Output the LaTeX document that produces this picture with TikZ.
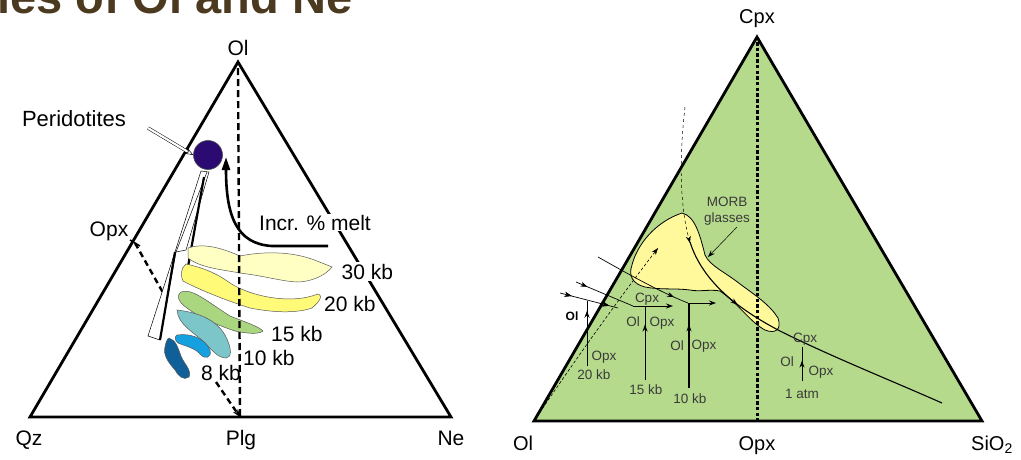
\documentclass[tikz,border=0pt]{standalone}
\usepackage{fontspec}
\setmainfont{Liberation Sans}
\usetikzlibrary{arrows.meta,decorations.markings}
\definecolor{titlebrown}{HTML}{4B3A1F}
\definecolor{rgreen}{HTML}{B5DA8C}
\definecolor{morb}{HTML}{FFF99B}
\definecolor{kbthirty}{HTML}{FFFFC4}
\definecolor{kbtwenty}{HTML}{FFFA78}
\definecolor{kbfifteen}{HTML}{A9D67E}
\definecolor{kbten}{HTML}{7CC6C9}
\definecolor{kbeighta}{HTML}{15A0E0}
\definecolor{kbeightb}{HTML}{0F5F98}
\definecolor{perid}{HTML}{2B0B72}
\definecolor{txtgray}{HTML}{3A3A3A}
\begin{document}
\begin{tikzpicture}[x=1pt,y=-1pt,
  edge/.style={line width=2.8pt, line join=miter},
  bigl/.style={font=\fontsize{21}{23}\selectfont, inner sep=0pt, anchor=base},
  smalll/.style={font=\fontsize{13.5}{15}\selectfont, inner sep=0pt, text=txtgray, anchor=base},
  blob/.style={draw=gray!70!black, line width=0.5pt},
  thinl/.style={line width=1pt},
  tip/.style={-{Stealth[length=7pt,width=5pt]}},
  midarrow/.style={postaction={decorate}, decoration={markings, mark=at position #1 with {\arrow{Stealth[length=7pt,width=5pt]}}}}
]
\useasboundingbox (0,0) rectangle (1021,459);
\clip (0,0) rectangle (1021,459);
\fill[white] (0,0) rectangle (1021,459);

% title (cropped at the top edge)
\node[anchor=base west, font=\fontsize{47}{47}\selectfont\bfseries, text=titlebrown, inner sep=0pt] (title) at (-3,13) {ies of Ol and Ne};

% ===== left triangle =====
\coordinate (ol) at (238,62);
\coordinate (qz) at (30,417);
\coordinate (ne) at (451,417);
\coordinate (plg) at (240,417);
\coordinate (opxp) at (135,243);
\draw[edge] (qz) -- (ol) -- (ne) -- cycle;

\node[bigl] (lol) at (238,55) {Ol};
\node[bigl] (lqz) at (29,445) {Qz};
\node[bigl] (lplg) at (241,445) {Plg};
\node[bigl] (lne) at (451,445) {Ne};
\node[bigl] (lopx) at (109,236) {Opx};
\node[bigl, font=\fontsize{22}{24}\selectfont] (lper) at (74,126) {Peridotites};

% Opx dashed line to Plg
\draw[line width=2.4pt, dash pattern=on 6pt off 4pt] (opxp) -- (166,298);
\draw[line width=2.4pt, dash pattern=on 6pt off 4pt, -{Stealth[length=8pt,width=6pt]}] (216,382) -- (plg);
\draw[line width=1.5pt] (130,240) -- (140,246);

% white wedges
\draw[line width=0.5pt, fill=white] (201,171) -- (148,336) -- (160,340) -- (176,252) -- (186,250) -- (209,172) -- cycle;
\draw[line width=0.5pt] (207,172) -- (176,252);
\draw[line width=2.2pt] (204,177) -- (186,278);
\draw[line width=2.2pt] (175,252) -- (160,340);

% blobs
\draw[blob, fill=kbthirty] (188,248) .. controls (200,244) and (215,245) .. (240,256)
  .. controls (260,252) and (290,250) .. (317,261) -- (332,267)
  .. controls (325,276) and (310,282) .. (297,282)
  .. controls (280,281) and (265,276) .. (240,273)
  .. controls (225,270) and (200,268) .. (188,258) -- cycle;
\draw[blob, fill=kbtwenty] (186,264) .. controls (200,267) and (215,272) .. (230,283)
  .. controls (250,296) and (290,305) .. (318,294)
  .. controls (324,296) and (318,303) .. (312,308)
  .. controls (295,314) and (270,312) .. (250,308)
  .. controls (225,300) and (200,290) .. (183,281)
  .. controls (180,275) and (181,268) .. (186,264) -- cycle;
\draw[blob, fill=kbfifteen] (181,292) .. controls (192,288) and (205,300) .. (230,316)
  .. controls (245,322) and (258,326) .. (263,331)
  .. controls (258,335) and (245,333) .. (235,331)
  .. controls (220,326) and (200,318) .. (187,308)
  .. controls (178,302) and (176,295) .. (181,292) -- cycle;
\draw[blob, fill=kbten] (177,310) .. controls (195,312) and (215,318) .. (225,335)
  .. controls (232,348) and (232,358) .. (226,358)
  .. controls (218,358) and (212,350) .. (205,343)
  .. controls (195,333) and (178,325) .. (177,310) -- cycle;
\draw[blob, fill=kbeighta] (177,335) .. controls (190,333) and (205,338) .. (210,350)
  .. controls (212,358) and (205,360) .. (200,354)
  .. controls (195,348) and (185,346) .. (178,343)
  .. controls (174,340) and (175,336) .. (177,335) -- cycle;
\draw[blob, fill=kbeightb] (169,338) .. controls (176,340) and (178,348) .. (181,356)
  .. controls (184,364) and (192,370) .. (189,377)
  .. controls (184,381) and (178,376) .. (175,370)
  .. controls (168,362) and (163,355) .. (165,347)
  .. controls (166,342) and (167,339) .. (169,338) -- cycle;

% vertical dashed line Ol - Plg
\draw[line width=2.4pt, dash pattern=on 7pt off 4pt] (238,68) -- (plg);

% peridotite circle
\node[circle, draw=gray!60!black, fill=perid, minimum size=29pt, inner sep=0pt, line width=0.6pt] (per) at (208,155) {};
\draw[line width=0.5pt, double distance=2.2pt, -{Stealth[open,length=9pt,width=7pt]}] (148,128) -- (per.west);

% increasing melt arrow
\coordinate (meltstart) at (328,246);
\draw[line width=2.6pt, -{Triangle[length=13pt,width=8pt]}] (meltstart) -- (272,246) .. controls (236,244) and (226,215) .. (226,157);
\node[bigl, anchor=base west, fill=white, inner ysep=1pt, inner xsep=1pt] (lmelt) at (258,230) {Incr. \% melt};

\node[bigl, anchor=base west, fill=white, inner sep=1.5pt] (l30) at (340,279) {30 kb};
\node[bigl, anchor=base west] (l20) at (324,311) {20 kb};
\node[bigl, anchor=base west] (l15) at (271,341) {15 kb};
\node[bigl, anchor=base west] (l10) at (243,365) {10 kb};
\node[bigl, anchor=base west] (l8) at (201,380) {8 kb};

% ===== right triangle =====
\coordinate (rol) at (534,421);
\coordinate (rcpx) at (757,37);
\coordinate (rsi) at (982,421);
\coordinate (ropx) at (757,421);
\fill[rgreen] (rol) -- (rcpx) -- (rsi) -- cycle;

% MORB blob
\draw[line width=0.8pt, fill=morb] (682,213) .. controls (695,216) and (700,235) .. (705,255)
  .. controls (710,266) and (725,272) .. (740,284)
  .. controls (755,295) and (770,305) .. (778,318)
  .. controls (782,330) and (775,334) .. (765,330)
  .. controls (750,322) and (740,305) .. (720,291)
  .. controls (710,289) and (700,292) .. (690,290)
  .. controls (675,288) and (660,290) .. (645,287)
  .. controls (633,284) and (628,276) .. (632,265)
  .. controls (637,245) and (655,222) .. (682,213) -- cycle;

\draw[line width=3pt, dash pattern=on 3.5pt off 2.2pt] (757,42) -- (ropx);
\draw[edge] (rol) -- (rcpx) -- (rsi) -- cycle;

% curves
\draw[line width=0.5pt, dashed, tip] (685,107) .. controls (679,160) and (680,205) .. (690,243);
\draw[line width=1.1pt, midarrow=0.26] (690,242) .. controls (703,283) and (740,310) .. (780,331)
  .. controls (830,356) and (890,380) .. (942,403);
\draw[line width=0.6pt, densely dashed, tip] (rol) .. controls (575,360) and (618,300) .. (658,248);

% line A (20 kb)
\coordinate (a0) at (560,293);
\coordinate (a1) at (618,308);
\draw[line width=0.7pt, midarrow=0.2, midarrow=0.85] (a0) -- (a1);
% line B (15 kb)
\coordinate (b0) at (576,282);
\coordinate (b1) at (633,306);
\coordinate (b2) at (673,306);
\draw[line width=0.7pt, midarrow=0.2] (b0) -- (b1);
\draw[thinl, tip] (b1) -- (b2);
% line C (10 kb)
\coordinate (c0) at (598,257);
\coordinate (c1) at (688,303);
\coordinate (c2) at (716,303);
\draw[line width=0.7pt, midarrow=0.85] (c0) .. controls (630,275) and (660,292) .. (c1);
\draw[thinl, tip] (c1) -- (c2);

% verticals
\coordinate (v20b) at (587,366);
\coordinate (v20t) at (587,301);
\draw[thinl, midarrow=0.85] (v20b) -- (v20t);
\coordinate (v15b) at (645,380);
\coordinate (v15t) at (645,306);
\draw[thinl, midarrow=0.75] (v15b) -- (v15t);
\coordinate (v10b) at (689,388);
\coordinate (v10t) at (689,303);
\draw[line width=1.4pt, midarrow=0.75] (v10b) -- (v10t);
\coordinate (v1b) at (802,381);
\coordinate (v1t) at (802,347);
\draw[thinl, midarrow=0.6] (v1b) -- (v1t);

% MORB label arrow
\coordinate (morbtip) at (708,257);
\node[smalll, anchor=center, align=center, font=\fontsize{13.5}{16}\selectfont] (lmorb) at (727,211) {MORB\\glasses};
\draw[line width=0.5pt, tip] (737,227) -- (morbtip);

% small labels
\node[smalll, text=black, font=\fontsize{12}{13}\selectfont\bfseries] (s20ol) at (572,320) {Ol};
\node[smalll] (s20opx) at (604,360) {Opx};
\node[smalll] (s20kb) at (594,379) {20 kb};
\node[smalll] (s15cpx) at (647,302) {Cpx};
\node[smalll] (s15ol) at (633,326) {Ol};
\node[smalll] (s15opx) at (662,326) {Opx};
\node[smalll] (s15kb) at (646,394) {15 kb};
\node[smalll] (s10ol) at (677,350) {Ol};
\node[smalll] (s10opx) at (704,349) {Opx};
\node[smalll] (s10kb) at (690,403) {10 kb};
\node[smalll] (s1cpx) at (805,342) {Cpx};
\node[smalll] (s1ol) at (787,366) {Ol};
\node[smalll] (s1opx) at (821,375) {Opx};
\node[smalll] (s1kb) at (802,398) {1 atm};

% corner labels
\node[bigl, font=\fontsize{20}{22}\selectfont] (rlcpx) at (757,23) {Cpx};
\node[bigl, font=\fontsize{20}{22}\selectfont] (rlol) at (523,450) {Ol};
\node[bigl, font=\fontsize{20}{22}\selectfont] (rlopx) at (757,450) {Opx};
\node[bigl, font=\fontsize{20}{22}\selectfont] (rlsi) at (992,450) {SiO\textsubscript{2}};
\end{tikzpicture}
\end{document}
